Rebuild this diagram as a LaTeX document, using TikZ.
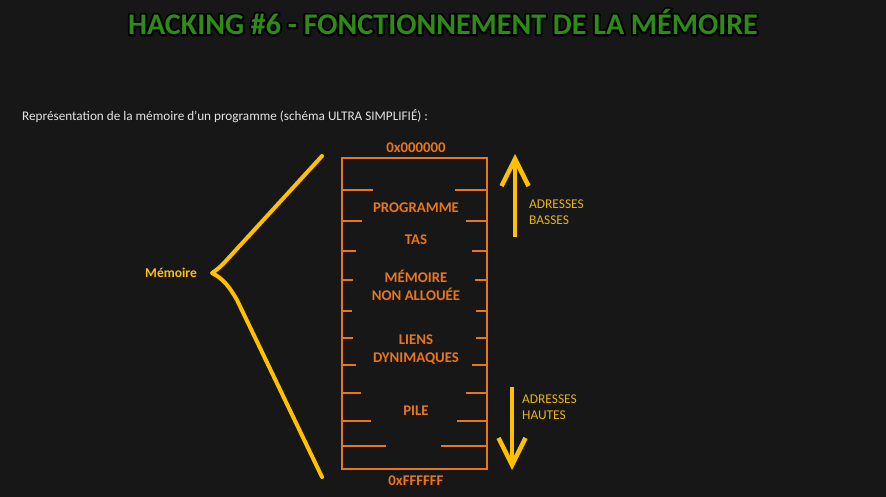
\documentclass[tikz,border=0pt]{standalone}
\usepackage{fontspec}
\setmainfont{Carlito}
\usetikzlibrary{arrows.meta,positioning}

\definecolor{fond}{RGB}{23,23,23}
\definecolor{vert}{RGB}{46,140,22}
\definecolor{orangemem}{RGB}{232,118,28}
\definecolor{jaune}{RGB}{255,192,0}
\definecolor{jauneadr}{RGB}{232,180,20}
\definecolor{gristexte}{RGB}{228,228,228}

% contour du titre : texte en mode trait seul
\newcommand{\contourtitre}[1]{\special{pdf:literal direct 1 Tr 4 w 1 j 0 0 0 RG}#1\special{pdf:literal direct 0 Tr}}

\begin{document}
\begin{tikzpicture}[x=1pt, y=-1pt,
    titre/.style={font=\bfseries\fontsize{30}{32}\selectfont, text=vert, inner sep=0},
    lbl/.style={font=\bfseries\fontsize{14.8}{18}\selectfont, text=orangemem, align=center, inner sep=0},
    tick/.style={draw=orangemem, line width=1.3pt},
    fleche/.style={draw=jaune, line width=4.5pt, -{Straight Barb[length=27pt,width=27pt]}},
    adr/.style={font=\fontsize{13.4}{16}\selectfont, text=jauneadr, align=left, anchor=north west, inner sep=0}
]
    \fill[fond] (0,0) rectangle (886,497);
    \useasboundingbox (0,0) rectangle (886,497);

    % titre avec contour sombre
    \node[titre, text=black] (ombre) at (443,22) {\contourtitre{HACKING \#6 - FONCTIONNEMENT DE LA MÉMOIRE}};
    \node[titre] (titre) at (443,22) {HACKING \#6 - FONCTIONNEMENT DE LA MÉMOIRE};
    \node[font=\fontsize{13.2}{15}\selectfont, text=gristexte, anchor=west, inner sep=0] (sous) at (22,116) {Représentation de la mémoire d'un programme (schéma ULTRA SIMPLIFIÉ) :};

    % bloc mémoire
    \node[draw=orangemem, line width=1.3pt, minimum width=145pt, minimum height=311pt, inner sep=0] (mem) at (414.5,313.5) {};
    \node[lbl] (haut) at (416,148) {0x000000};
    \node[lbl] (bas) at (416,481) {0xFFFFFF};
    \node[lbl] (prog) at (416,208) {PROGRAMME};
    \node[lbl] (tas) at (416,240) {TAS};
    \node[lbl] (libre) at (416,285) {MÉMOIRE\\NON ALLOUÉE};
    \node[lbl] (liens) at (416,349.5) {LIENS\\DYNIMAQUES};
    \node[lbl] (pile) at (416,411) {PILE};

    \foreach \y/\g/\d in {190/32/33, 221/21/22, 251/15/16, 280/12/13, 311/11/12, 338/12/12, 365/15/16, 393/20/22, 421/30/31, 446/45/47} {
        \draw[tick] (mem.west |- 0,\y) -- ++(\g,0);
        \draw[tick] (mem.east |- 0,\y) -- ++(-\d,0);
    }

    % sens des adresses
    \coordinate (montee0) at (515,237);
    \coordinate (montee1) at (515,154);
    \draw[fleche] (montee0) -- (montee1);
    \node[adr] (basses) at (529,200) {ADRESSES\\BASSES};
    \coordinate (descente0) at (512,387);
    \coordinate (descente1) at (512,470);
    \draw[fleche] (descente0) -- (descente1);
    \node[adr] (hautes) at (522,395) {ADRESSES\\HAUTES};

    % accolade
    \node[font=\bfseries\fontsize{13.5}{15}\selectfont, text=jaune, anchor=east, inner sep=0] (nom) at (197,273) {Mémoire};
    \coordinate (pointe) at (212,273);
    \draw[draw=jaune, line width=4pt, line cap=round, line join=round]
        (322,156) -- (224,263) .. controls (218,269) and (215,271) .. (pointe)
        .. controls (224,279) and (230,288) .. (237,300) -- (322,477);
\end{tikzpicture}
\end{document}
